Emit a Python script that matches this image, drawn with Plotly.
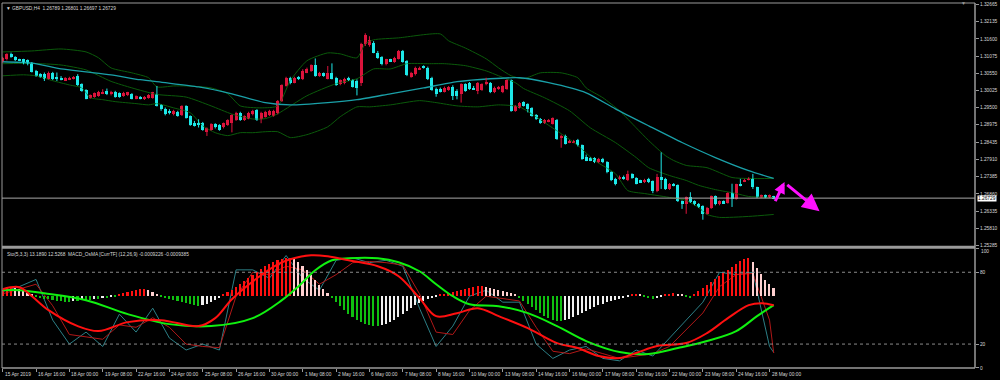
import plotly.graph_objects as go

# ---------------- data ----------------
time_labels = ["15 Apr 2019", "16 Apr 16:00", "18 Apr 00:00", "19 Apr 08:00", "22 Apr 16:00",
               "24 Apr 00:00", "25 Apr 08:00", "26 Apr 16:00", "30 Apr 00:00", "1 May 08:00",
               "2 May 16:00", "6 May 00:00", "7 May 08:00", "8 May 16:00", "10 May 00:00",
               "13 May 08:00", "14 May 16:00", "16 May 00:00", "17 May 08:00", "20 May 16:00",
               "22 May 00:00", "23 May 08:00", "24 May 16:00", "28 May 00:00"]
time_label_bars = list(range(0, 185, 8))

price_ticks = [1.32665, 1.32135, 1.31600, 1.31075, 1.30550, 1.30025, 1.29500, 1.28975,
               1.28435, 1.27910, 1.27385, 1.26860, 1.26335, 1.25810, 1.25285]
sub_ticks = [0, 20, 80, 100]

open_ = [1.3092,1.3097,1.3113,1.3105,1.3097,1.3097,1.3094,1.3085,1.3062,1.3052,
 1.3052,1.3038,1.3057,1.3043,1.3041,1.3034,1.3036,1.3039,1.3046,1.3021,
 1.3004,1.2980,1.2983,1.2985,1.2993,1.3001,1.2991,1.2998,1.2994,1.2985,
 1.2987,1.2991,1.2977,1.2983,1.2977,1.2980,1.2980,1.2991,1.2957,1.2945,
 1.2940,1.2929,1.2937,1.2926,1.2955,1.2924,1.2904,1.2904,1.2904,1.2876,
 1.2882,1.2899,1.2896,1.2889,1.2896,1.2904,1.2912,1.2933,1.2912,1.2916,
 1.2929,1.2943,1.2914,1.2922,1.2926,1.2924,1.2933,1.2970,1.3016,1.3041,
 1.3026,1.3043,1.3036,1.3057,1.3062,1.3079,1.3046,1.3055,1.3038,1.3057,
 1.3041,1.3021,1.3024,1.3040,1.3034,1.3031,1.3026,1.3143,1.3140,1.3146,
 1.3118,1.3105,1.3082,1.3097,1.3089,1.3099,1.3123,1.3092,1.3044,1.3052,
 1.3067,1.3075,1.3072,1.3041,1.3006,1.3006,1.2998,1.3004,1.3014,1.3001,
 1.2991,1.3021,1.3024,1.3011,1.3001,1.3004,1.3021,1.3026,1.2996,1.3006,
 1.2996,1.3006,1.3034,1.2940,1.2950,1.2966,1.2961,1.2948,1.2928,1.2915,
 1.2902,1.2908,1.2900,1.2912,1.2857,1.2864,1.2844,1.2844,1.2851,1.2834,
 1.2798,1.2796,1.2796,1.2783,1.2793,1.2783,1.2752,1.2732,1.2732,1.2739,
 1.2729,1.2747,1.2735,1.2727,1.2721,1.2731,1.2725,1.2694,1.2737,1.2732,
 1.2701,1.2717,1.2712,1.2664,1.2656,1.2676,1.2664,1.2656,1.2648,1.2625,
 1.2643,1.2678,1.2654,1.2664,1.2658,1.2688,1.2671,1.2717,1.2725,1.2729,
 1.2732,1.2706,1.2676,1.2681,1.2676,1.26789]

high = [1.3105,1.3116,1.3118,1.3107,1.3099,1.3099,1.3097,1.3089,1.3065,1.3055,
 1.3057,1.3060,1.3059,1.3057,1.3046,1.3043,1.3044,1.3046,1.3052,1.3024,
 1.3006,1.2990,1.2996,1.3001,1.3006,1.3008,1.3001,1.3001,1.2996,1.2998,
 1.2998,1.2994,1.2987,1.2985,1.2985,1.2991,1.2998,1.3016,1.2960,1.2950,
 1.2945,1.2943,1.2940,1.2957,1.2957,1.2926,1.2909,1.2914,1.2906,1.2889,
 1.2902,1.2902,1.2899,1.2904,1.2914,1.2929,1.2937,1.2937,1.2926,1.2937,
 1.2943,1.2945,1.2937,1.2940,1.2943,1.2943,1.2973,1.3021,1.3044,1.3044,
 1.3044,1.3046,1.3067,1.3072,1.3082,1.3100,1.3059,1.3057,1.3077,1.3085,
 1.3044,1.3036,1.3041,1.3044,1.3036,1.3036,1.3148,1.3177,1.3168,1.3153,
 1.3123,1.3107,1.3099,1.3099,1.3105,1.3126,1.3126,1.3095,1.3059,1.3075,
 1.3075,1.3079,1.3075,1.3044,1.3011,1.3011,1.3014,1.3016,1.3018,1.3006,
 1.3024,1.3024,1.3028,1.3016,1.3028,1.3024,1.3041,1.3028,1.3014,1.3016,
 1.3018,1.3036,1.3036,1.2957,1.2967,1.2969,1.2963,1.2951,1.2930,1.2918,
 1.2915,1.2915,1.2920,1.2915,1.2867,1.2867,1.2851,1.2851,1.2854,1.2837,
 1.2806,1.2798,1.2798,1.2796,1.2796,1.2786,1.2755,1.2735,1.2742,1.2742,
 1.2757,1.2749,1.2737,1.2729,1.2732,1.2735,1.2727,1.2747,1.2813,1.2735,
 1.2719,1.2719,1.2715,1.2666,1.2678,1.2691,1.2666,1.2658,1.2651,1.2646,
 1.2681,1.2681,1.2666,1.2666,1.2691,1.2717,1.2717,1.2732,1.2732,1.2737,
 1.2747,1.2708,1.2684,1.2684,1.2684,1.26801]

low = [1.3087,1.3094,1.3102,1.3092,1.3092,1.3082,1.3079,1.3057,1.3044,1.3041,
 1.3031,1.3036,1.3034,1.3031,1.3033,1.3031,1.3034,1.3036,1.3016,1.2998,
 1.2975,1.2977,1.2980,1.2983,1.2991,1.2988,1.2987,1.2980,1.2980,1.2983,
 1.2985,1.2975,1.2975,1.2975,1.2973,1.2977,1.2977,1.2953,1.2940,1.2926,
 1.2929,1.2926,1.2922,1.2924,1.2916,1.2894,1.2892,1.2889,1.2879,1.2863,
 1.2879,1.2886,1.2879,1.2886,1.2894,1.2874,1.2909,1.2909,1.2909,1.2914,
 1.2926,1.2909,1.2902,1.2919,1.2924,1.2922,1.2929,1.2967,1.3014,1.3021,
 1.3024,1.3034,1.3034,1.3055,1.3059,1.3044,1.3044,1.3044,1.3036,1.3036,
 1.3016,1.3018,1.3021,1.3031,1.3011,1.2987,1.3016,1.3138,1.3136,1.3116,
 1.3099,1.3079,1.3079,1.3089,1.3087,1.3097,1.3087,1.3046,1.3041,1.3048,
 1.3065,1.3069,1.3034,1.3001,1.2983,1.2996,1.2996,1.3001,1.2973,1.2975,
 1.2965,1.2998,1.3004,1.3004,1.2991,1.3001,1.3018,1.2994,1.2994,1.3004,
 1.2994,1.3004,1.2937,1.2937,1.2947,1.2953,1.2935,1.2922,1.2912,1.2900,
 1.2900,1.2905,1.2898,1.2851,1.2827,1.2837,1.2841,1.2841,1.2831,1.2790,
 1.2786,1.2786,1.2780,1.2780,1.2780,1.2749,1.2725,1.2712,1.2729,1.2729,
 1.2725,1.2732,1.2715,1.2719,1.2719,1.2719,1.2688,1.2691,1.2701,1.2698,
 1.2698,1.2709,1.2661,1.2640,1.2625,1.2658,1.2651,1.2643,1.2607,1.2623,
 1.2640,1.2651,1.2651,1.2656,1.2656,1.2646,1.2668,1.2709,1.2722,1.2727,
 1.2701,1.2673,1.2673,1.2673,1.2673,1.26697]

close_ = [1.3102,1.3113,1.3105,1.3094,1.3094,1.3085,1.3084,1.3060,1.3046,1.3044,
 1.3038,1.3057,1.3036,1.3038,1.3036,1.3040,1.3041,1.3043,1.3018,1.3001,
 1.2977,1.2988,1.2994,1.2998,1.2999,1.2991,1.2998,1.2981,1.2983,1.2994,
 1.2996,1.2977,1.2985,1.2977,1.2983,1.2987,1.2996,1.2955,1.2945,1.2929,
 1.2933,1.2940,1.2924,1.2955,1.2919,1.2896,1.2894,1.2896,1.2882,1.2886,
 1.2899,1.2889,1.2882,1.2902,1.2912,1.2926,1.2933,1.2912,1.2924,1.2933,
 1.2940,1.2912,1.2933,1.2937,1.2940,1.2940,1.2970,1.3018,1.3041,1.3024,
 1.3041,1.3036,1.3062,1.3067,1.3079,1.3046,1.3057,1.3046,1.3057,1.3038,
 1.3018,1.3033,1.3038,1.3033,1.3013,1.3011,1.3143,1.3171,1.3158,1.3118,
 1.3102,1.3084,1.3097,1.3092,1.3102,1.3123,1.3089,1.3048,1.3057,1.3072,
 1.3072,1.3072,1.3036,1.3004,1.2991,1.2998,1.3011,1.3013,1.2985,1.2985,
 1.3021,1.3001,1.3006,1.3006,1.3026,1.3021,1.3028,1.2996,1.3011,1.3014,
 1.3016,1.3034,1.2940,1.2955,1.2965,1.2956,1.2946,1.2925,1.2915,1.2902,
 1.2912,1.2912,1.2918,1.2854,1.2864,1.2839,1.2849,1.2849,1.2834,1.2793,
 1.2788,1.2788,1.2783,1.2793,1.2783,1.2752,1.2729,1.2715,1.2739,1.2732,
 1.2747,1.2735,1.2717,1.2721,1.2729,1.2722,1.2694,1.2737,1.2729,1.2701,
 1.2717,1.2712,1.2664,1.2654,1.2676,1.2661,1.2654,1.2646,1.2625,1.2643,
 1.2678,1.2654,1.2664,1.2658,1.2688,1.2671,1.2715,1.2712,1.2729,1.2732,
 1.2706,1.2676,1.2681,1.2676,1.2681,1.26729]

ma_bars = [0,7,14,20,26,33,39,47,55,63,69,78,85,93,101,109,117,124,131,140,147,155,163,171,179,185]
ma_vals = [1.3090,1.3086,1.3068,1.3059,1.3050,1.3035,1.3026,1.3013,1.2992,1.2965,1.2958,1.2965,1.2974,
           1.2992,1.3010,1.3029,1.3038,1.3041,1.3026,1.2995,1.2946,1.2894,1.2843,1.2797,1.2757,1.2733]

bb_up_bars = [0,7,14,20,23,26,31,35,37,41,44,50,54,57,62,66,69,73,78,81,85,87,89,95,105,107,111,116,119,
              122,125,129,134,138,140,144,148,152,155,159,161,164,169,175,179,185]
bb_up_vals = [1.3120,1.3123,1.3129,1.3120,1.3102,1.3071,1.3056,1.3041,1.3013,1.3016,1.3016,1.3010,1.2992,
              1.2955,1.2949,1.2955,1.3032,1.3093,1.3117,1.3114,1.3102,1.3145,1.3157,1.3163,1.3175,1.3154,
              1.3132,1.3099,1.3071,1.3047,1.3038,1.3056,1.3056,1.3041,1.3010,1.2980,1.2940,1.2888,1.2849,
              1.2803,1.2788,1.2773,1.2766,1.2736,1.2733,1.2733]
bb_mid_bars = [0,7,14,20,26,31,37,44,50,55,60,63,66,73,80,85,89,93,97,102,106,111,116,119,123,125,130,
               136,141,147,152,155,160,164,167,171,176,179,185]
bb_mid_vals = [1.3084,1.3085,1.3080,1.3065,1.3030,1.3010,1.2990,1.2982,1.2955,1.2930,1.2915,1.2916,1.2931,
               1.2986,1.3023,1.3038,1.3068,1.3068,1.3084,1.3084,1.3084,1.3078,1.3062,1.3047,1.3026,1.3008,
               1.2980,1.2940,1.2888,1.2843,1.2797,1.2766,1.2742,1.2727,1.2712,1.2699,1.2687,1.2678,1.2675]
bb_lo_bars = [0,5,8,12,16,19,21,24,27,32,35,37,41,45,48,51,54,57,60,63,66,69,73,78,81,85,88,93,100,104,
              109,114,119,124,130,134,138,142,147,150,154,157,160,164,167,169,172,179,185]
bb_lo_vals = [1.3047,1.3050,1.3047,1.3032,1.3019,1.3010,1.2980,1.2974,1.2968,1.2962,1.2958,1.2962,1.2949,
              1.2934,1.2894,1.2873,1.2864,1.2873,1.2873,1.2876,1.2876,1.2858,1.2867,1.2891,1.2922,1.2952,
              1.2952,1.2958,1.2971,1.2965,1.2955,1.2952,1.2958,1.2952,1.2904,1.2870,1.2834,1.2788,1.2748,
              1.2696,1.2687,1.2681,1.2675,1.2666,1.2644,1.2623,1.2614,1.2617,1.2623]

osma = [0.0006,0.0008,0.0009,0.0008,0.0007,0.0005,
        0.0003,0.0002,-0.0001,-0.0002,-0.0003,-0.0003,
        -0.0004,-0.0005,-0.0005,-0.0006,-0.0006,-0.0005,-0.0005,-0.0004,-0.0004,-0.0004,-0.0003,-0.0003,-0.0002,-0.0002,-0.0001,-0.0001,
        0.0002,0.0003,0.0004,0.0005,0.0006,0.0007,0.0007,0.0006,0.0004,0.0002,
        -0.0001,-0.0002,-0.0003,-0.0004,-0.0005,-0.0006,-0.0007,
        -0.0008,-0.0009,-0.0010,-0.0009,-0.0008,-0.0006,-0.0004,-0.0002,
        0.0002,0.0004,0.0006,0.0009,0.0012,0.0015,0.0018,0.0021,0.0024,0.0027,0.0030,0.0032,0.0034,0.0036,0.0037,0.0038,0.0038,0.0037,
        0.0034,0.0030,0.0026,0.0021,0.0016,0.0011,0.0007,0.0003,
        -0.0002,-0.0006,-0.0010,-0.0014,-0.0018,-0.0021,-0.0024,-0.0026,-0.0028,-0.0029,-0.0030,-0.0030,-0.0029,-0.0028,-0.0026,
        -0.0024,-0.0021,-0.0018,-0.0015,-0.0012,-0.0009,-0.0007,-0.0005,-0.0003,-0.0002,-0.0001,
        0.0001,0.0002,0.0003,0.0004,0.0005,0.0006,0.0007,0.0008,0.0009,0.0010,0.0010,0.0009,0.0008,0.0007,0.0006,0.0005,0.0004,0.0003,0.0002,
        -0.0002,-0.0005,-0.0008,-0.0011,-0.0014,-0.0017,-0.0020,-0.0022,-0.0024,-0.0025,-0.0025,-0.0024,-0.0023,-0.0021,-0.0019,-0.0017,-0.0015,-0.0013,-0.0011,-0.0009,-0.0008,-0.0006,-0.0005,-0.0004,-0.0003,
        -0.0002,-0.0001,0.0001,0.0002,0.0001,-0.0001,-0.0002,-0.0003,-0.0002,-0.0001,0.0001,0.0002,0.0003,0.0002,0.0001,-0.0001,-0.0002,
        0.0002,0.0005,0.0008,0.0011,0.0014,0.0017,0.0020,0.0023,0.0026,0.0029,0.0032,0.0035,0.0037,0.0038,
        0.0034,0.0028,0.0022,0.0016,0.0012,0.0008]

macd_bars = [0,4,7,11,18,23,30,38,47,51,55,61,66,69,74,78,83,90,95,100,104,109,114,119,126,133,138,143,148,
             152,157,164,169,174,179,182,185]
macd_vals = [0.0007,0.0009,0.0000,-0.0014,-0.0030,-0.0035,-0.0026,-0.0024,-0.0030,-0.0022,-0.0003,0.0018,
             0.0032,0.0037,0.0041,0.0040,0.0036,0.0030,0.0020,-0.0002,-0.0020,-0.0017,-0.0012,-0.0020,-0.0032,
             -0.0047,-0.0052,-0.0060,-0.0062,-0.0057,-0.0050,-0.0047,-0.0037,-0.0022,-0.0009,-0.0007,-0.0009]
signal_bars = [0,4,10,20,30,40,50,60,67,71,75,79,83,90,95,100,104,108,112,119,126,133,140,148,155,162,169,
               176,181,185]
signal_vals = [0.0006,0.0006,0.0003,-0.0004,-0.0018,-0.0028,-0.0030,-0.0022,-0.0004,0.0010,0.0026,0.0036,
               0.0038,0.0038,0.0034,0.0025,0.0012,0.0000,-0.0008,-0.0010,-0.0017,-0.0030,-0.0045,-0.0056,
               -0.0058,-0.0052,-0.0045,-0.0035,-0.0020,-0.0009]

sto_bars = list(range(0, 185, 4)) + [185]
sto_main = [64,68,74,40,20,30,18,45,30,50,25,15,20,15,82,82,75,94,75,65,90,92,88,90,85,50,18,35,60,65,
            55,55,20,8,15,18,8,6,15,10,25,40,55,80,78,80,18,13]
sto_sig = [62,66,70,52,28,26,24,36,34,42,34,20,18,17,60,80,78,85,82,70,78,88,89,88,86,62,30,28,48,60,
           58,56,34,14,12,16,12,8,10,12,18,32,46,68,78,79,40,12.5]

arrow_tail_bar = [185.2, 187.9]
arrow_tail_px = [1.26590, 1.27170]
arrow_head_bar = [187.6, 196.0]
arrow_head_px = [1.27220, 1.26330]
arrow_size = [0.75, 1.15]

last_price = 1.26729

# ---------------- styling ----------------
UP = "#dc143c"
DN = "#1ee8e8"
GRID = "#9a9a9a"
TXT = "#d8d8d8"
FONT = "Liberation Sans"
FS = 4.8

n = len(close_)
bars = list(range(n))
bull = [i for i in bars if close_[i] >= open_[i]]
bear = [i for i in bars if close_[i] < open_[i]]

fig = go.Figure()

for bx, bv in ((bb_up_bars, bb_up_vals), (bb_mid_bars, bb_mid_vals), (bb_lo_bars, bb_lo_vals)):
    fig.add_trace(go.Scatter(x=bx, y=bv, mode="lines", line=dict(color="#0b5a0b", width=1, shape="spline", smoothing=0.6),
                             xaxis="x", yaxis="y", hoverinfo="skip"))
fig.add_trace(go.Scatter(x=ma_bars, y=ma_vals, mode="lines", line=dict(color="#1aa0a8", width=1.3, shape="spline", smoothing=0.6),
                         xaxis="x", yaxis="y", hoverinfo="skip"))

for ids, col in ((bull, UP), (bear, DN)):
    wx, wy = [], []
    for i in ids:
        wx += [i, i, None]
        wy += [low[i], high[i], None]
    fig.add_trace(go.Scatter(x=wx, y=wy, mode="lines", line=dict(color=col, width=1), xaxis="x", yaxis="y",
                             hoverinfo="skip"))
    fig.add_trace(go.Bar(x=ids, base=[min(open_[i], close_[i]) for i in ids],
                         y=[max(abs(close_[i] - open_[i]), 0.00022) for i in ids],
                         width=0.72, marker=dict(color=col, line=dict(width=0)), xaxis="x", yaxis="y"))

hist_col = []
for i, v in enumerate(osma):
    prev = osma[i - 1] if i > 0 else v
    if v >= 0:
        hist_col.append("#ff1010" if v >= prev else "#ffd0d0")
    else:
        hist_col.append("#10c010" if v <= prev else "#f0f0f0")
fig.add_trace(go.Bar(x=bars, y=osma, width=0.38, marker=dict(color=hist_col, line=dict(width=0)),
                     xaxis="x", yaxis="y3"))

fig.add_trace(go.Scatter(x=sto_bars, y=sto_main, mode="lines", line=dict(color="#2c7f86", width=1),
                         xaxis="x", yaxis="y2", hoverinfo="skip"))
fig.add_trace(go.Scatter(x=sto_bars, y=sto_sig, mode="lines", line=dict(color="#b01818", width=1),
                         xaxis="x", yaxis="y2", hoverinfo="skip"))
fig.add_trace(go.Scatter(x=signal_bars, y=signal_vals, mode="lines", line=dict(color="#10f010", width=2, shape="spline"),
                         xaxis="x", yaxis="y3", hoverinfo="skip"))
fig.add_trace(go.Scatter(x=macd_bars, y=macd_vals, mode="lines", line=dict(color="#ff1010", width=2, shape="spline"),
                         xaxis="x", yaxis="y3", hoverinfo="skip"))

shapes = []
shapes.append(dict(type="line", xref="paper", yref="paper", x0=1, x1=1, y0=0, y1=1, line=dict(color=GRID, width=1.5)))
shapes.append(dict(type="line", xref="paper", yref="paper", x0=0, x1=0, y0=0, y1=1, line=dict(color=GRID, width=1)))
shapes.append(dict(type="line", xref="paper", yref="paper", x0=0, x1=1, y0=1, y1=1, line=dict(color=GRID, width=1)))
shapes.append(dict(type="line", xref="paper", yref="paper", x0=0, x1=1, y0=0.3306, y1=0.3306, line=dict(color=GRID, width=3)))
shapes.append(dict(type="line", xref="paper", yref="paper", x0=0, x1=1, y0=0, y1=0, line=dict(color=GRID, width=1.5)))
for lv in (20, 80):
    shapes.append(dict(type="line", xref="paper", yref="y2", x0=0, x1=1, y0=lv, y1=lv,
                       line=dict(color="#8a8a8a", width=1, dash="dot")))
shapes.append(dict(type="line", xref="paper", yref="y", x0=0, x1=1, y0=last_price, y1=last_price,
                   line=dict(color="#a8a8a8", width=1)))

annotations = []
for b, t in zip(time_label_bars, time_labels):
    annotations.append(dict(x=b, y=0, xref="x", yref="paper", text=t, showarrow=False, xanchor="left",
                            yanchor="top", xshift=0, yshift=-2, font=dict(family=FONT, size=FS, color=TXT)))
annotations.append(dict(x=0, y=1, xref="paper", yref="paper", text="▼ GBPUSD,H4  1.26789 1.26801 1.26697 1.26729",
                        showarrow=False, xanchor="left", yanchor="top", xshift=2, yshift=-1,
                        font=dict(family=FONT, size=FS, color=TXT)))
annotations.append(dict(x=0, y=0.3279, xref="paper", yref="paper",
                        text="Sto(5,3,3) 13.1890 12.5268  MACD_OsMA [CurrTF] (12,26,9) -0.0009226 -0.0009385",
                        showarrow=False, xanchor="left", yanchor="top", xshift=3, yshift=-2,
                        font=dict(family=FONT, size=FS, color=TXT)))
annotations.append(dict(x=1, y=last_price, xref="paper", yref="y", text="1.26729", showarrow=False,
                        xanchor="left", yanchor="middle", xshift=2, bgcolor="#ffffff", borderpad=0,
                        font=dict(family=FONT, size=FS, color="#000000")))
annotations.append(dict(x=1, y=sub_ticks[-1], xref="paper", yref="y2", text=str(sub_ticks[-1]), showarrow=False,
                        xanchor="left", yanchor="middle", xshift=4, yshift=-3,
                        font=dict(family=FONT, size=FS, color=TXT)))
annotations.append(dict(x=0.988, y=1, xref="paper", yref="paper", text="▼", showarrow=False,
                        xanchor="center", yanchor="middle", font=dict(family=FONT, size=5, color=GRID)))
for tx, ty, hx, hy, sz in zip(arrow_tail_bar, arrow_tail_px, arrow_head_bar, arrow_head_px, arrow_size):
    annotations.append(dict(x=hx, y=hy, ax=tx, ay=ty, xref="x", yref="y", axref="x", ayref="y", text="",
                            showarrow=True, arrowhead=2, arrowsize=sz, arrowwidth=3, arrowcolor="#ff10ff"))

fig.update_layout(
    width=1000, height=380, margin=dict(l=2, r=21, t=2, b=12),
    paper_bgcolor="#000000", plot_bgcolor="#000000", showlegend=False,
    barmode="overlay", bargap=0,
    xaxis=dict(range=[-0.17, 233.3], anchor="y2", showgrid=False, zeroline=False, showline=False,
               tickvals=time_label_bars, ticktext=[""] * len(time_label_bars), ticks="outside", ticklen=3,
               tickcolor=GRID, tickwidth=1),
    yaxis=dict(domain=[0.3333, 1], range=[1.25255, 1.32696], side="right", showgrid=False, zeroline=False,
               tickvals=price_ticks, ticktext=[f"{v:.5f}" for v in price_ticks], ticks="outside", ticklen=3,
               tickcolor=GRID, tickfont=dict(family=FONT, size=FS, color=TXT), anchor="x"),
    yaxis2=dict(domain=[0, 0.3279], range=[0, 100], side="right", showgrid=False, zeroline=False,
                tickvals=sub_ticks, ticktext=[str(v) for v in sub_ticks[:-1]] + [""], ticks="outside", ticklen=3,
                tickcolor=GRID, tickfont=dict(family=FONT, size=FS, color=TXT), anchor="x"),
    yaxis3=dict(overlaying="y2", range=[-0.0072, 0.0048], visible=False, anchor="x"),
    shapes=shapes, annotations=annotations,
)

fig.write_html("out.html", config={"displayModeBar": False},
               post_script="document.body.style.margin='0px';document.body.style.padding='0px';"
                           "document.body.style.overflow='hidden';")
